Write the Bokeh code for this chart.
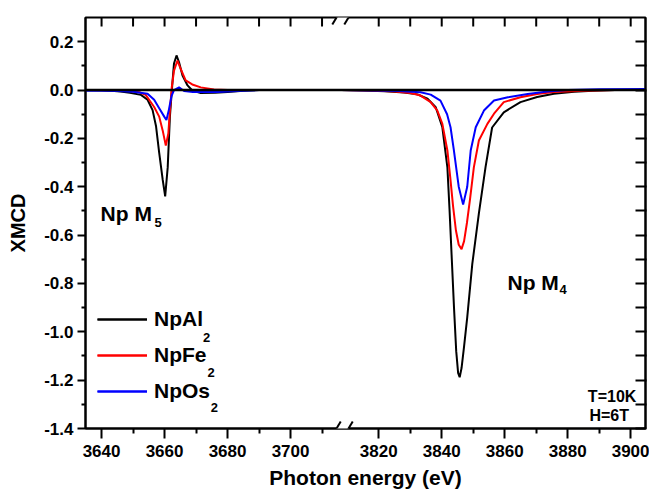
import numpy as np
from bokeh.plotting import figure
from bokeh.models import (FixedTicker, LinearAxis, CustomJSTickFormatter, PrintfTickFormatter,
                          Span, Label, Legend, LegendItem, Arrow, Range1d)
from bokeh.embed import file_html
from bokeh.resources import INLINE

# ---------------- data (photon energy in eV, XMCD) ----------------
GAP = 92  # width of the axis break, eV

npal2_m5_e = [3635, 3640, 3643, 3646, 3649, 3652.5, 3654.6, 3656.2, 3657.3, 3658.3, 3659.4, 3660.2,
              3661.0, 3661.7, 3662.5, 3663.0, 3663.8, 3664.6, 3665.7, 3667.3, 3668.8, 3671.5,
              3676, 3680, 3685, 3690, 3700, 3716]
npal2_m5_v = [0.0, -0.001, -0.003, -0.006, -0.011, -0.02, -0.04, -0.083, -0.15, -0.26, -0.37, -0.44,
              -0.32, -0.11, 0.03, 0.11, 0.143, 0.115, 0.06, 0.019, -0.002, -0.012,
              -0.011, -0.008, -0.003, 0.0, 0.0, 0.0]
npal2_m4_e = [3808, 3815, 3822, 3828, 3832.3, 3835.5, 3838.1, 3840.2, 3841.8, 3842.5, 3843.2, 3843.9,
              3844.6, 3845.2, 3845.7, 3846.3, 3847.1, 3848.1, 3849.7, 3851.8, 3853.9, 3856.0, 3859.7,
              3865.0, 3870.3, 3875.6, 3882, 3888, 3895, 3905]
npal2_m4_v = [0.0, -0.002, -0.005, -0.01, -0.018, -0.036, -0.071, -0.154, -0.32, -0.50, -0.70, -0.90,
              -1.08, -1.17, -1.188, -1.15, -1.06, -0.94, -0.72, -0.51, -0.32, -0.155, -0.092,
              -0.05, -0.029, -0.015, -0.007, -0.003, 0.0, 0.0]

npfe2_m5_e = [3635, 3645, 3649, 3652, 3654, 3656.7, 3658.3, 3659.4, 3660.4, 3661.2, 3661.7, 3662.3,
              3663.0, 3664.1, 3665.1, 3666.7, 3668.8, 3671.5, 3675.7, 3680, 3700, 3716]
npfe2_m5_v = [0.0, -0.001, -0.004, -0.009, -0.02, -0.07, -0.11, -0.167, -0.23, -0.18, -0.085, 0.012,
              0.08, 0.122, 0.088, 0.04, 0.023, 0.011, 0.002, 0.0, 0.0, 0.0]
npfe2_m4_e = [3808, 3818, 3825, 3830, 3833.3, 3836.5, 3838.6, 3840.2, 3841.8, 3842.7, 3843.6, 3844.5,
              3845.4, 3846.3, 3847.1, 3848.0, 3849.0, 3850.2, 3851.8, 3854.5, 3856.6, 3859.7, 3865.0,
              3870.3, 3875.6, 3885, 3895, 3905]
npfe2_m4_v = [0.0, -0.002, -0.006, -0.012, -0.023, -0.05, -0.085, -0.14, -0.25, -0.36, -0.48, -0.58,
              -0.64, -0.658, -0.625, -0.55, -0.45, -0.32, -0.209, -0.14, -0.098, -0.05, -0.03,
              -0.016, -0.008, -0.003, 0.0, 0.0]

npos2_m5_e = [3635, 3640, 3645, 3650, 3654.6, 3656.7, 3658.3, 3659.9, 3660.6, 3661.4, 3662.2, 3663.0,
              3664.6, 3666.2, 3669, 3676.5, 3685, 3690, 3700, 3716]
npos2_m5_v = [-0.003, -0.003, -0.004, -0.007, -0.015, -0.04, -0.075, -0.11, -0.124, -0.08, -0.025, 0.0,
              0.011, -0.004, -0.008, -0.008, -0.003, 0.0, 0.0, 0.0]
npos2_m4_e = [3808, 3818, 3826, 3833.3, 3836.5, 3839.6, 3841.7, 3842.8, 3843.8, 3845.4, 3846.8, 3848.1,
              3849.2, 3850.8, 3853.4, 3856.6, 3861, 3867.3, 3873.6, 3880, 3890, 3905]
npos2_m4_v = [0.0, -0.002, -0.004, -0.009, -0.019, -0.044, -0.10, -0.154, -0.243, -0.40, -0.474, -0.40,
              -0.25, -0.154, -0.085, -0.043, -0.03, -0.016, -0.006, 0.0, 0.003, 0.004]

series_names = ["NpAl", "NpFe", "NpOs"]
series_subscripts = ["2", "2", "2"]
series_colors = ["#000000", "#ff0000", "#0000ff"]

x_major_left = [3640, 3660, 3680, 3700]
x_major_right = [3820, 3840, 3860, 3880, 3900]
x_minor_left = [3650, 3670, 3690, 3710]
x_minor_right = [3830, 3850, 3870, 3890]
y_major = [-1.4, -1.2, -1.0, -0.8, -0.6, -0.4, -0.2, 0.0, 0.2]
y_minor = [-1.3, -1.1, -0.9, -0.7, -0.5, -0.3, -0.1, 0.1]

X_LO, X_HI = 3634.9, 3904.7
Y_LO, Y_HI = -1.4, 0.3
BREAK_L = 3714.6   # left edge of break marks (eV, left scale)

FONT = "Liberation Sans"

def disp(e):
    return [v - GAP for v in e]

p = figure(width=649, height=495, x_range=Range1d(X_LO, X_HI - GAP), y_range=Range1d(Y_LO, Y_HI),
           output_backend="svg", toolbar_location=None,
           min_border_left=85, min_border_right=4, min_border_top=17, min_border_bottom=67)
p.xgrid.visible = False
p.ygrid.visible = False
p.outline_line_color = "black"
p.outline_line_width = 2
p.background_fill_color = "white"

xticker = FixedTicker(ticks=x_major_left + disp(x_major_right),
                      minor_ticks=x_minor_left + disp(x_minor_right))
yticker = FixedTicker(ticks=y_major, minor_ticks=y_minor)
xfmt = CustomJSTickFormatter(args=dict(gap=GAP, brk=BREAK_L),
                             code="return (tick > brk ? tick + gap : tick).toFixed(0);")

xa = p.xaxis[0]
xa.ticker = xticker
xa.formatter = xfmt
xa.axis_label = "Photon energy (eV)"
ya = p.yaxis[0]
ya.ticker = yticker
ya.formatter = PrintfTickFormatter(format="%.1f")
ya.axis_label = "XMCD"

for ax in (xa, ya):
    ax.axis_line_width = 2
    ax.major_tick_line_width = 2
    ax.minor_tick_line_width = 2
    ax.major_label_text_font = FONT
    ax.major_label_text_font_style = "bold"
    ax.major_label_text_font_size = "17px"
    ax.major_label_text_color = "black"
    ax.axis_label_text_font = FONT
    ax.axis_label_text_font_style = "bold"
    ax.axis_label_text_color = "black"
    ax.major_tick_in = 0
    ax.minor_tick_in = 0
xa.major_tick_out = 10
xa.minor_tick_out = 5
xa.major_label_standoff = 6
xa.axis_label_text_font_size = "21px"
xa.axis_label_standoff = 6
ya.major_tick_out = 8
ya.minor_tick_out = 4
ya.major_label_standoff = 4
ya.axis_label_text_font_size = "20px"
ya.axis_label_standoff = 12

right = LinearAxis(ticker=yticker, formatter=CustomJSTickFormatter(code="return '';"),
                   major_label_standoff=1,
                   major_tick_in=10, major_tick_out=1, minor_tick_in=10, minor_tick_out=1,
                   axis_line_width=2, major_tick_line_width=2, minor_tick_line_width=2)
p.add_layout(right, "right")

px_x = (X_HI - GAP - X_LO) / 560.0
px_y = (Y_HI - Y_LO) / 411.0

data = [(npal2_m5_e, npal2_m5_v, npal2_m4_e, npal2_m4_v),
        (npfe2_m5_e, npfe2_m5_v, npfe2_m4_e, npfe2_m4_v),
        (npos2_m5_e, npos2_m5_v, npos2_m4_e, npos2_m4_v)]
items = []
for (e5, v5, e4, v4), name, col in zip(data, series_names, series_colors):
    r1 = p.line(e5, v5, line_color=col, line_width=2)
    r2 = p.line(disp(e4), v4, line_color=col, line_width=2)
    items.append(LegendItem(label=name, renderers=[r1, r2]))

p.add_layout(Span(location=0, dimension="width", line_color="black", line_width=2.5))

# inward ticks along the top edge (mirror of the bottom axis ticks)
top_ticks = x_major_left + disp(x_major_right) + x_minor_left + disp(x_minor_right)
for tx in top_ticks:
    p.add_layout(Arrow(x_start=tx, y_start=Y_HI, x_end=tx, y_end=Y_HI - 9 * px_y,
                       end=None, line_color="black", line_width=2))

legend = Legend(items=items, location=(12, 25), padding=0, margin=0, spacing=12,
                glyph_width=50, glyph_height=22, label_height=22, label_standoff=7,
                label_text_font=FONT, label_text_font_style="bold", label_text_font_size="21px",
                label_text_color="black",
                border_line_alpha=0, background_fill_alpha=0)
p.add_layout(legend, "center")

# break marks on top and bottom axes
for yb in (Y_HI, Y_LO):
    p.add_layout(Arrow(x_start=BREAK_L, y_start=yb, x_end=BREAK_L + 12 * px_x, y_end=yb,
                       end=None, line_color="white", line_width=5))
    for k in (0, 1):
        xc = BREAK_L + k * 12 * px_x
        p.add_layout(Arrow(x_start=xc - 4.2 * px_x, y_start=yb - 7 * px_y,
                           x_end=xc + 4.2 * px_x, y_end=yb + 7 * px_y,
                           end=None, line_color="black", line_width=2))

def lab(x, y, text, size, align="left"):
    p.add_layout(Label(x=x, y=y, text=text, text_font=FONT, text_font_style="bold",
                       text_font_size=size, text_align=align, text_baseline="alphabetic",
                       text_color="black"))

lab(3639.7, -0.511, "Np M", "21px")
lab(3656.8, -0.546, "5", "13px")
lab(3768.9, -0.796, "Np M", "21px")
lab(3785.4, -0.827, "4", "13px")
lab(3794.4, -1.2675, "T=10K", "16px")
lab(3794.9, -1.346, "H=6T", "16px")
# subscripts of the legend entries
for sx, sy, sub in zip([3672.2, 3673.6, 3674.7], [-1.0236, -1.1683, -1.313], series_subscripts):
    lab(sx, sy, sub, "13px")

open("out.html", "w").write(file_html(p, INLINE))
